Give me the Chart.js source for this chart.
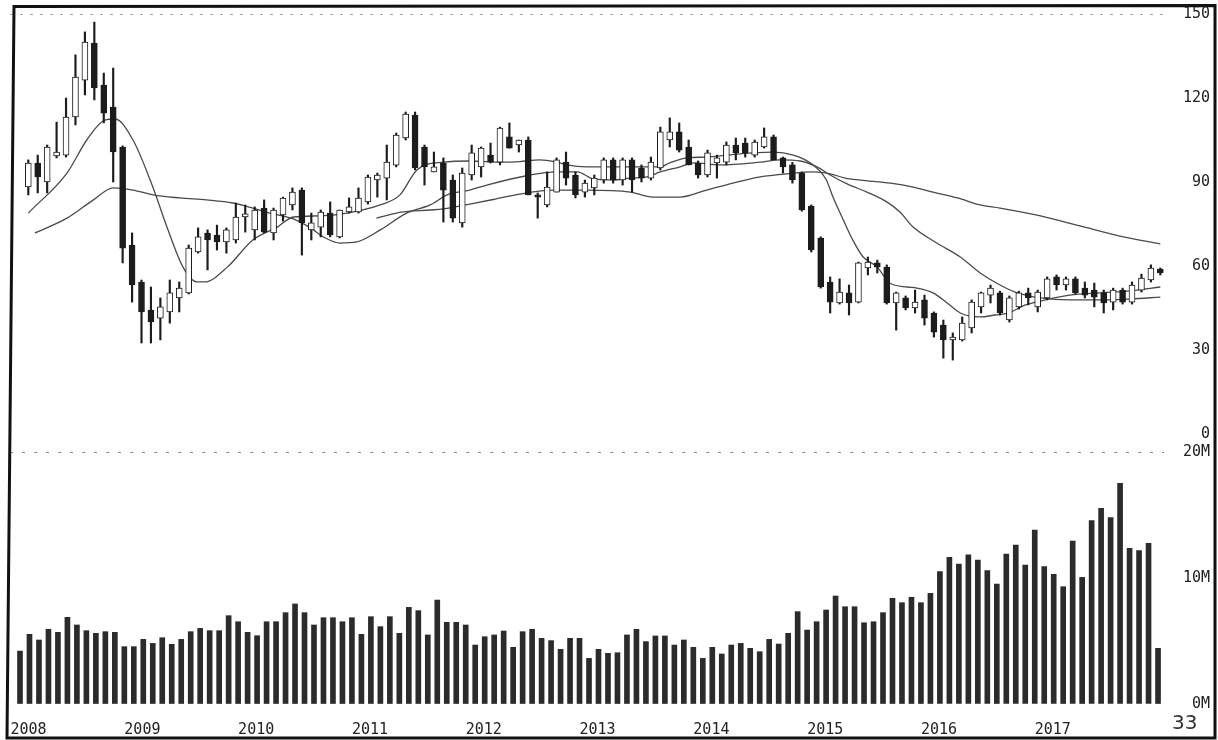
<!DOCTYPE html>
<html>
<head>
<meta charset="utf-8">
<script src="https://cdn.jsdelivr.net/npm/chart.js@4"></script>
<style>
    html, body { margin: 0; padding: 0; background: #fff; }
    canvas { display: block; }
</style>
</head>
<body>
<canvas id="chart" width="1218" height="740"></canvas>
<script>
// monthly bars, Feb 2008 .. Feb 2018 (index 0 = Feb 2008)
const yearLabels = ['2008', '2009', '2010', '2011', '2012', '2013', '2014', '2015', '2016', '2017'];
const yearStartIdx = [-1, 11, 23, 35, 47, 59, 71, 83, 95, 107];

const priceTicks = [0, 30, 60, 90, 120, 150];
const volumeTicks = [0, 10, 20];

const opens = [
    88.2, 96.8, 90.0, 99.3, 99.6, 113.2, 126.4, 139.6, 124.6, 116.8,
    102.5, 67.5, 54.3, 44.3, 41.4, 43.6, 48.6, 50.4, 65.0, 71.8,
    71.0, 68.6, 69.3, 77.5, 72.9, 80.7, 71.8, 78.2, 81.8, 87.1,
    72.9, 73.9, 78.9, 70.4, 79.3, 79.3, 82.9, 90.7, 91.4, 96.0,
    105.7, 113.9, 102.5, 93.6, 96.8, 90.7, 75.4, 92.5, 95.4, 99.6,
    97.1, 106.1, 103.2, 105.0, 85.4, 81.8, 86.4, 97.1, 92.5, 86.4,
    87.9, 90.7, 97.9, 90.7, 97.9, 95.0, 91.4, 95.0, 105.0, 107.9,
    102.5, 96.8, 92.5, 96.8, 97.1, 103.2, 103.9, 99.6, 102.5, 106.1,
    98.6, 96.1, 93.2, 81.4, 70.0, 54.3, 46.8, 50.4, 47.1, 59.3,
    61.1, 59.6, 46.8, 48.6, 45.0, 47.9, 43.2, 38.9, 33.6, 33.6,
    37.9, 45.4, 49.6, 50.4, 40.7, 45.4, 50.4, 45.4, 48.6, 56.1,
    53.2, 55.4, 52.1, 51.4, 50.4, 47.1, 51.4, 47.1, 51.4, 55.0,
    58.9
];
const highs = [
    97.9, 99.6, 103.2, 111.4, 120.0, 135.4, 143.6, 147.1, 128.9, 130.7,
    102.9, 71.8, 55.0, 52.5, 48.6, 55.0, 54.3, 67.5, 73.6, 72.9,
    74.6, 73.6, 82.5, 81.8, 81.1, 83.6, 80.7, 84.6, 87.9, 87.9,
    78.9, 80.0, 82.9, 80.0, 84.3, 87.9, 92.5, 93.2, 103.2, 107.5,
    115.0, 115.0, 103.2, 100.7, 98.6, 92.5, 95.0, 103.2, 102.5, 103.9,
    109.6, 111.1, 105.0, 106.1, 86.1, 93.6, 98.6, 100.7, 93.6, 90.7,
    92.5, 98.6, 98.6, 98.6, 98.6, 96.1, 98.9, 109.6, 112.9, 111.1,
    105.0, 97.5, 101.4, 99.6, 104.3, 105.7, 105.7, 105.0, 109.3, 106.8,
    98.9, 97.0, 93.6, 81.8, 70.4, 56.1, 55.4, 53.2, 61.4, 63.2,
    62.1, 60.4, 50.7, 49.3, 51.4, 49.6, 43.6, 40.7, 36.1, 41.8,
    47.9, 50.7, 53.2, 51.0, 49.3, 51.0, 52.1, 51.4, 56.1, 56.8,
    56.1, 56.1, 54.3, 53.9, 51.4, 52.1, 52.1, 54.3, 57.1, 60.4,
    59.3
];
const lows = [
    85.4, 86.1, 86.1, 98.6, 98.9, 110.4, 121.1, 119.3, 111.1, 90.0,
    61.1, 47.1, 32.5, 32.5, 33.6, 39.6, 43.6, 50.0, 64.6, 58.6,
    65.7, 64.6, 68.2, 72.1, 69.3, 71.8, 69.3, 76.0, 80.0, 63.9,
    69.3, 70.4, 70.4, 70.0, 78.9, 78.9, 82.1, 84.6, 83.6, 95.4,
    105.0, 94.3, 88.9, 93.6, 75.7, 75.7, 73.9, 90.7, 91.8, 96.8,
    96.1, 102.1, 100.7, 85.4, 77.1, 81.1, 86.4, 88.9, 84.3, 84.6,
    85.4, 89.6, 89.6, 88.9, 86.4, 90.0, 90.7, 94.3, 102.5, 100.7,
    96.1, 91.4, 91.8, 91.4, 96.1, 97.9, 98.9, 98.9, 102.1, 97.9,
    93.2, 89.6, 79.6, 65.0, 52.1, 43.2, 46.4, 42.5, 46.8, 56.8,
    57.5, 46.4, 37.1, 44.3, 43.2, 38.9, 34.6, 27.1, 26.4, 33.2,
    36.1, 43.2, 46.8, 42.5, 40.0, 44.6, 46.1, 43.6, 47.9, 51.4,
    51.4, 50.0, 48.6, 45.4, 43.2, 44.3, 46.4, 46.4, 50.7, 54.3,
    56.8
];
const closes = [
    96.8, 91.8, 102.5, 100.7, 113.2, 127.5, 140.0, 123.6, 114.6, 100.7,
    66.4, 53.2, 43.6, 40.0, 45.4, 50.4, 52.1, 66.4, 70.4, 69.3,
    68.6, 72.9, 77.5, 78.6, 80.0, 72.1, 80.0, 84.3, 86.4, 75.4,
    75.4, 79.3, 71.1, 80.0, 81.1, 84.3, 91.8, 92.5, 97.1, 106.8,
    114.3, 95.0, 95.4, 95.4, 87.1, 77.1, 93.2, 100.4, 102.1, 97.1,
    109.3, 102.1, 105.0, 85.4, 84.6, 88.2, 97.9, 91.4, 85.4, 89.6,
    91.4, 97.9, 90.7, 97.9, 90.7, 91.4, 97.1, 107.9, 107.9, 101.4,
    96.1, 92.5, 100.4, 98.6, 103.2, 100.4, 100.4, 104.3, 106.1, 97.9,
    95.4, 90.7, 80.0, 65.7, 52.5, 47.1, 50.7, 46.8, 61.1, 61.4,
    59.6, 46.8, 50.4, 45.0, 47.1, 41.4, 36.4, 33.6, 34.6, 39.6,
    47.1, 50.4, 52.1, 43.2, 48.6, 50.4, 48.6, 50.7, 55.4, 53.2,
    55.4, 50.4, 49.6, 48.9, 46.8, 51.4, 47.1, 53.2, 55.7, 59.3,
    57.5
];

// volume, millions
const volumes = [
    4.2, 5.53, 5.08, 5.93, 5.69, 6.88, 6.27, 5.82, 5.61, 5.74,
    5.69, 4.55, 4.55, 5.13, 4.81, 5.26, 4.74, 5.13, 5.74, 6.0,
    5.82, 5.82, 7.01, 6.53, 5.69, 5.42, 6.53, 6.53, 7.25, 7.94,
    7.25, 6.27, 6.85, 6.85, 6.53, 6.85, 5.53, 6.93, 6.14, 6.93,
    5.61, 7.67, 7.41, 5.48, 8.25, 6.48, 6.48, 6.27, 4.68, 5.34,
    5.48, 5.79, 4.5, 5.74, 5.93, 5.21, 5.03, 4.34, 5.21, 5.21,
    3.62, 4.34, 4.02, 4.07, 5.48, 5.93, 4.95, 5.4, 5.4, 4.68,
    5.08, 4.5, 3.62, 4.5, 3.97, 4.68, 4.81, 4.42, 4.15, 5.13,
    4.76, 5.61, 7.33, 5.87, 6.53, 7.46, 8.57, 7.72, 7.72, 6.45,
    6.53, 7.25, 8.39, 8.04, 8.47, 8.04, 8.78, 10.5, 11.64, 11.11,
    11.83, 11.43, 10.58, 9.52, 11.9, 12.62, 11.03, 13.81, 10.9, 10.29,
    9.31, 12.94, 10.05, 14.55, 15.53, 14.79, 17.51, 12.36, 12.17, 12.75,
    4.42
];

// moving averages: [month index, value]
const maFast = [
    [0, 78.9], [4.1, 93.2], [6.2, 105.0], [8.1, 112.1], [9.2, 112.5], [11.1, 105.0],
    [13.2, 88.2], [14.7, 73.9], [16.4, 59.6], [17.9, 54.3], [18.7, 54.3], [21.1, 59.6],
    [23.8, 69.3], [26.4, 73.9], [28.1, 77.5], [30.9, 77.9], [33.8, 78.9], [37.3, 81.8],
    [39.4, 85.4], [41.2, 94.3], [44.0, 97.1], [46.8, 97.5], [50.0, 97.1], [52.1, 97.3],
    [54.2, 97.9], [56.0, 97.1], [57.1, 96.1], [59.2, 95.4], [63.8, 95.4], [67.0, 95.4],
    [68.0, 96.8], [69.8, 98.6], [71.9, 98.9], [74.1, 99.6], [76.8, 100.4], [79.0, 100.7],
    [81.1, 99.6], [82.9, 96.8], [84.6, 90.7], [85.3, 84.6], [86.4, 76.4], [87.4, 69.3],
    [88.5, 63.2], [90.0, 59.6], [91.3, 53.9], [93.2, 52.5], [94.2, 52.1], [95.9, 50.4],
    [97.4, 46.8], [98.8, 43.2], [100.9, 41.8], [102.5, 42.5], [103.9, 43.2], [105.7, 46.1],
    [107.8, 47.9], [110.4, 49.6], [113.6, 50.4], [116.8, 51.1], [120.0, 52.5]
];
const maMid = [
    [0.7, 71.8], [4.1, 77.1], [6.9, 83.6], [9.0, 87.9], [11.1, 87.1], [13.2, 85.4],
    [16.1, 84.3], [18.9, 83.6], [21.7, 82.5], [23.8, 80.7], [25.6, 78.9], [28.1, 76.8],
    [29.9, 73.6], [31.5, 70.0], [33.0, 68.2], [34.8, 68.6], [37.3, 72.9], [40.1, 78.9],
    [42.6, 81.8], [44.4, 85.4], [46.8, 87.1], [48.6, 88.9], [53.2, 92.5], [56.0, 93.6],
    [58.2, 93.6], [59.9, 91.1], [62.0, 90.7], [63.8, 91.4], [65.6, 91.8], [67.0, 93.6],
    [69.1, 95.4], [70.5, 96.8], [73.3, 96.1], [77.6, 97.1], [79.7, 97.9], [81.8, 97.5],
    [83.6, 95.4], [85.0, 92.5], [86.8, 89.3], [88.9, 86.4], [91.0, 82.9], [92.4, 79.3],
    [93.8, 73.9], [96.3, 68.2], [98.8, 63.2], [100.9, 57.5], [103.0, 53.2], [104.6, 50.7],
    [107.3, 48.6], [110.4, 47.9], [113.6, 47.9], [116.8, 48.2], [120.0, 48.9]
];
const maSlow = [
    [36.9, 77.1], [39.7, 79.3], [42.6, 80.0], [44.0, 80.4], [46.8, 82.1], [49.5, 83.9],
    [52.1, 85.7], [55.6, 87.1], [59.2, 87.1], [63.8, 86.4], [66.2, 84.6], [69.1, 84.6],
    [71.9, 87.1], [74.7, 89.6], [77.6, 91.8], [80.4, 92.9], [83.2, 93.6], [85.0, 92.9],
    [86.6, 91.4], [88.2, 90.7], [91.4, 89.6], [93.8, 88.2], [95.9, 86.4], [98.5, 84.3],
    [100.9, 81.8], [103.0, 80.7], [107.3, 77.9], [111.5, 74.3], [115.7, 70.7], [120.0, 67.9]
];

const ink = '#1c1c1c';
const tickFont = { family: 'DejaVu Sans Mono', size: 15 };
const idx = opens.map((_, i) => i);
const toPts = arr => arr.map(p => ({ x: p[0], y: p[1] }));

const maStyle = {
    type: 'line',
    xAxisID: 'xp',
    yAxisID: 'y',
    borderColor: '#4a4a4a',
    borderWidth: 1.3,
    pointRadius: 0,
    cubicInterpolationMode: 'monotone',
    order: 4
};

const framePlugin = {
    id: 'frame',
    afterDraw: (chart) => {
        const ctx = chart.ctx;
        ctx.save();
        ctx.strokeStyle = '#111';
        ctx.lineWidth = 3;
        ctx.beginPath();
        ctx.moveTo(14, 6.5);
        ctx.lineTo(1215, 5.5);
        ctx.lineTo(1215, 738);
        ctx.lineTo(7, 738);
        ctx.closePath();
        ctx.stroke();
        ctx.fillStyle = '#333';
        ctx.font = '20px "DejaVu Sans"';
        ctx.textBaseline = 'alphabetic';
        ctx.fillText('33', 1172, 729);
        ctx.restore();
    }
};

new Chart(document.getElementById('chart').getContext('2d'), {
    type: 'bar',
    data: {
        datasets: [
            Object.assign({ data: toPts(maFast) }, maStyle),
            Object.assign({ data: toPts(maMid) }, maStyle),
            Object.assign({ data: toPts(maSlow) }, maStyle),
            {
                // candle bodies
                type: 'bar',
                xAxisID: 'xp',
                yAxisID: 'y',
                data: idx.map(i => ({ x: i, y: [opens[i], closes[i]] })),
                backgroundColor: idx.map(i => closes[i] >= opens[i] ? '#ffffff' : ink),
                borderColor: ink,
                borderWidth: 1,
                borderSkipped: false,
                barThickness: 6,
                minBarLength: 2,
                grouped: false,
                order: 1
            },
            {
                // wicks
                type: 'bar',
                xAxisID: 'xp',
                yAxisID: 'y',
                data: idx.map(i => ({ x: i, y: [lows[i], highs[i]] })),
                backgroundColor: ink,
                barThickness: 1.5,
                grouped: false,
                order: 2
            },
            {
                type: 'bar',
                xAxisID: 'x',
                yAxisID: 'v',
                data: idx.map(i => ({ x: i, y: volumes[i] })),
                backgroundColor: '#2b2b2b',
                barThickness: 5,
                grouped: false,
                order: 5
            }
        ]
    },
    options: {
        responsive: false,
        animation: false,
        layout: { padding: { left: 10, top: 14, right: 8, bottom: 0 } },
        plugins: {
            legend: { display: false },
            tooltip: { enabled: false }
        },
        scales: {
            x: {
                type: 'linear',
                position: 'bottom',
                min: -1.0545,
                max: 120.63,
                offset: false,
                grid: { display: false, drawTicks: false },
                border: { display: false },
                ticks: {
                    font: tickFont,
                    color: '#222',
                    align: 'start',
                    padding: 17,
                    maxRotation: 0,
                    autoSkip: false,
                    callback: (v) => {
                        const j = yearStartIdx.indexOf(v);
                        return j >= 0 ? yearLabels[j] : '';
                    }
                },
                afterBuildTicks: (s) => { s.ticks = yearStartIdx.map(v => ({ value: v })); },
                afterFit: (s) => { s.height = 36; s.paddingLeft = 0; s.paddingRight = 0; }
            },
            xp: {
                type: 'linear',
                position: 'bottom',
                min: -1.94,
                max: 120.39,
                offset: false,
                display: false
            },
            y: {
                type: 'linear',
                position: 'right',
                stack: 'panes',
                stackWeight: 438,
                min: -6.43,
                max: 150,
                grid: {
                    drawTicks: false,
                    color: (c) => c.tick && c.tick.value === 150 ? 'rgba(0,0,0,0.35)' : 'rgba(0,0,0,0)'
                },
                border: { display: false, dash: [3, 7] },
                ticks: {
                    font: tickFont,
                    color: '#222',
                    crossAlign: 'far',
                    padding: 18,
                    callback: (v) => String(v)
                },
                afterBuildTicks: (s) => { s.ticks = priceTicks.map(v => ({ value: v })); },
                afterFit: (s) => { s.width = 46; s.paddingTop = 0; s.paddingBottom = 0; }
            },
            v: {
                type: 'linear',
                position: 'right',
                stack: 'panes',
                stackWeight: 252,
                min: 0,
                max: 20,
                grid: {
                    drawTicks: false,
                    color: (c) => c.tick && c.tick.value === 20 ? 'rgba(0,0,0,0.45)' : 'rgba(0,0,0,0)'
                },
                border: { display: false, dash: [3, 9] },
                ticks: {
                    font: tickFont,
                    color: '#222',
                    crossAlign: 'far',
                    padding: 18,
                    callback: (v) => v + 'M'
                },
                afterBuildTicks: (s) => { s.ticks = volumeTicks.map(v => ({ value: v })); },
                afterFit: (s) => { s.width = 46; s.paddingTop = 0; s.paddingBottom = 0; }
            }
        }
    },
    plugins: [framePlugin]
});
</script>
</body>
</html>
